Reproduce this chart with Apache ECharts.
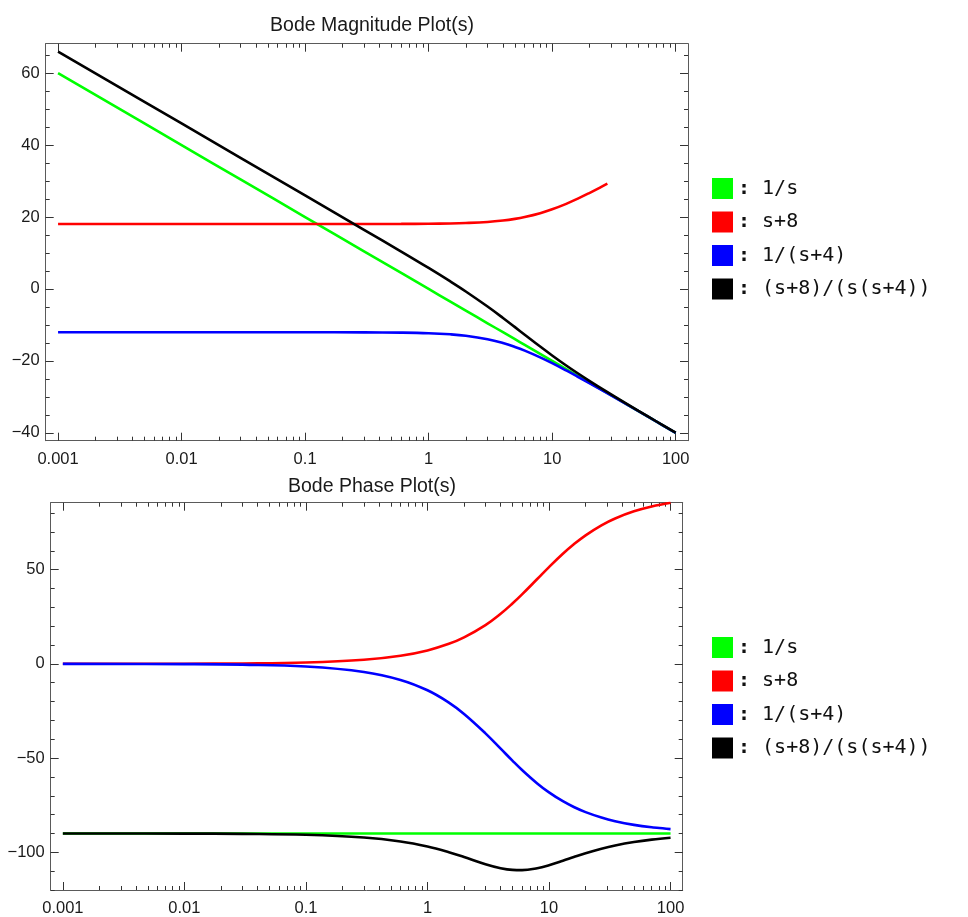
<!DOCTYPE html>
<html>
<head>
<meta charset="utf-8">
<script src="https://cdn.jsdelivr.net/npm/echarts@6/dist/echarts.min.js"></script>
<style>
  html, body { margin: 0; padding: 0; background: #fff; }
  #main { width: 968px; height: 917px; }
</style>
</head>
<body>
<div id="main"></div>
<script>
// frequencies (rad/s) sampled along the curves
var freq = [0.001, 0.01, 0.03, 0.1, 0.3, 0.6, 1, 1.5, 2, 3, 4, 5, 6, 8, 10, 13, 16, 20, 27, 35, 50, 70, 100];
// the s+8 magnitude curve stops near w = 28
var freqRed = [0.001, 0.01, 0.1, 0.3, 0.6, 1, 1.5, 2, 3, 4, 5, 6, 8, 10, 13, 16, 20, 24, 28];

// magnitude (dB)
var magGreen = [60, 40, 30.46, 20, 10.46, 4.44, 0, -3.52, -6.02, -9.54, -12.04, -13.98, -15.56, -18.06, -20, -22.28, -24.08, -26.02, -28.63, -30.88, -33.98, -36.9, -40];
var magRed = [18.06, 18.06, 18.06, 18.07, 18.09, 18.13, 18.21, 18.33, 18.63, 19.03, 19.49, 20.0, 21.07, 22.15, 23.67, 25.05, 26.67, 28.06, 29.28];
var magBlue = [-12.04, -12.04, -12.04, -12.04, -12.07, -12.14, -12.3, -12.61, -13.01, -13.98, -15.05, -16.13, -17.16, -19.03, -20.64, -22.67, -24.35, -26.19, -28.72, -30.94, -34.01, -36.92, -40.01];
var magBlack = [66.02, 46.02, 36.48, 26.02, 16.46, 10.39, 5.83, 2.08, -0.7, -4.89, -8.06, -10.62, -12.72, -16.02, -18.49, -21.28, -23.38, -25.54, -28.36, -30.72, -33.9, -36.86, -39.98];

// phase (deg)
var phaseGreen = [-90, -90, -90, -90, -90, -90, -90, -90, -90, -90, -90, -90, -90, -90, -90, -90, -90, -90, -90, -90, -90, -90, -90];
var phaseRed = [0.01, 0.07, 0.21, 0.72, 2.15, 4.29, 7.13, 10.62, 14.04, 20.56, 26.57, 32.01, 36.87, 45, 51.34, 58.39, 63.43, 68.2, 73.5, 77.13, 80.91, 83.48, 85.43];
var phaseBlue = [-0.01, -0.14, -0.43, -1.43, -4.29, -8.53, -14.04, -20.56, -26.57, -36.87, -45, -51.34, -56.31, -63.43, -68.2, -72.9, -75.96, -78.69, -81.57, -83.48, -85.43, -86.73, -87.71];
var phaseBlack = [-90.01, -90.07, -90.22, -90.71, -92.14, -94.24, -96.91, -99.94, -102.53, -106.31, -108.43, -109.33, -109.44, -108.43, -106.86, -104.51, -102.53, -100.49, -98.07, -96.35, -94.52, -93.25, -92.28];

var names = ['1/s', 's+8', '1/(s+4)', '(s+8)/(s(s+4))'];
var colors = ['#00ff00', '#ff0000', '#0000ff', '#000000'];

// tick values
var xMajor = [0.001, 0.01, 0.1, 1, 10, 100];
var xMinor = [];
xMajor.slice(0, 5).forEach(function (d) {
    for (var k = 2; k <= 9; k++) xMinor.push(+(d * k).toPrecision(3));
});
var magMajor = [-40, -20, 0, 20, 40, 60];
var magMinor = [-40, -35, -30, -25, -20, -15, -10, -5, 0, 5, 10, 15, 20, 25, 30, 35, 40, 45, 50, 55, 60, 65];
var phaseMajor = [-100, -50, 0, 50];
var phaseMinor = [-120, -110, -100, -90, -80, -70, -60, -50, -40, -30, -20, -10, 0, 10, 20, 30, 40, 50, 60, 70, 80];

var xMin = Math.pow(10, -3.1), xMax = Math.pow(10, 2.1);
var frameColor = '#5a5a5a';
var labelFont = { color: '#1a1a1a', fontFamily: 'Liberation Sans', fontSize: 16.5 };

function pairs(xs, ys) {
    return xs.map(function (x, i) { return [x, ys[i]]; });
}

function fmtY(v) {
    return v < 0 ? '\u2212' + Math.abs(v) : String(v);
}

// four x axes per grid: bottom major/minor, top major/minor
function xAxes(g) {
    function ax(pos, vals, len, withLabel, withLine) {
        return {
            type: 'log', logBase: 10, gridIndex: g, position: pos,
            min: xMin, max: xMax,
            axisLine: { show: withLine, onZero: false, lineStyle: { color: frameColor, width: 1 } },
            axisTick: { show: true, inside: true, length: len, customValues: vals, lineStyle: { color: '#333', width: 1 } },
            axisLabel: withLabel ? Object.assign({
                show: true, margin: 10, customValues: vals,
                formatter: function (v) { return String(+v.toPrecision(3)); }
            }, labelFont) : { show: false },
            splitLine: { show: false },
            minorTick: { show: false }
        };
    }
    return [
        ax('bottom', xMajor, 8, true, true),
        ax('bottom', xMinor, 4, false, false),
        ax('top', xMajor, 8, false, true),
        ax('top', xMinor, 4, false, false)
    ];
}

function yAxes(g, min, max, major, minor) {
    function ax(pos, vals, len, withLabel, withLine) {
        return {
            type: 'value', gridIndex: g, position: pos,
            min: min, max: max,
            axisLine: { show: withLine, onZero: false, lineStyle: { color: frameColor, width: 1 } },
            axisTick: { show: true, inside: true, length: len, customValues: vals, lineStyle: { color: '#333', width: 1 } },
            axisLabel: withLabel ? Object.assign({
                show: true, margin: 6, customValues: vals, formatter: fmtY
            }, labelFont) : { show: false },
            splitLine: { show: false }
        };
    }
    return [
        ax('left', major, 8, true, true),
        ax('left', minor, 4, false, false),
        ax('right', major, 8, false, true),
        ax('right', minor, 4, false, false)
    ];
}

function lineSeries(name, color, g, xs, ys) {
    return {
        name: name, type: 'line',
        xAxisIndex: g * 4, yAxisIndex: g * 4,
        data: pairs(xs, ys),
        smooth: 0.4,
        showSymbol: false, symbol: 'none',
        lineStyle: { color: color, width: 2.6 },
        itemStyle: { color: color },
        emphasis: { disabled: true },
        z: 3
    };
}

function legendFor(g, top) {
    return {
        orient: 'vertical', left: 707, top: top,
        icon: 'rect', itemWidth: 21, itemHeight: 21, itemGap: 12.5,
        data: names,
        selectedMode: false,
        formatter: function (name) { return '{c|:} {t|' + name + '}'; },
        textStyle: {
            fontFamily: 'DejaVu Sans Mono', fontSize: 20, color: '#111', lineHeight: 21,
            rich: {
                c: { fontFamily: 'DejaVu Sans Mono', fontSize: 20, fontWeight: 'bold', color: '#111' },
                t: { fontFamily: 'DejaVu Sans Mono', fontSize: 20, color: '#111' }
            }
        }
    };
}

var chart = echarts.init(document.getElementById('main'), null, { renderer: 'canvas' });

var option = {
    animation: false,
    backgroundColor: '#fff',
    title: [
        { text: 'Bode Magnitude Plot(s)', left: 367, top: 11, textAlign: 'center',
          textStyle: { fontFamily: 'Liberation Sans', fontSize: 19.5, fontWeight: 'normal', color: '#1a1a1a' } },
        { text: 'Bode Phase Plot(s)', left: 367, top: 472, textAlign: 'center',
          textStyle: { fontFamily: 'Liberation Sans', fontSize: 19.5, fontWeight: 'normal', color: '#1a1a1a' } }
    ],
    grid: [
        { left: 45.7, top: 43.7, width: 642.3, height: 397 },
        { left: 50.7, top: 502.7, width: 632, height: 390 }
    ],
    legend: [legendFor(0, 173), legendFor(1, 632)],
    xAxis: xAxes(0).concat(xAxes(1)),
    yAxis: yAxes(0, -42.2, 68.2, magMajor, magMinor).concat(yAxes(1, -120, 85.5, phaseMajor, phaseMinor)),
    series: [
        lineSeries(names[0], colors[0], 0, freq, magGreen),
        lineSeries(names[1], colors[1], 0, freqRed, magRed),
        lineSeries(names[2], colors[2], 0, freq, magBlue),
        lineSeries(names[3], colors[3], 0, freq, magBlack),
        lineSeries(names[0], colors[0], 1, freq, phaseGreen),
        lineSeries(names[1], colors[1], 1, freq, phaseRed),
        lineSeries(names[2], colors[2], 1, freq, phaseBlue),
        lineSeries(names[3], colors[3], 1, freq, phaseBlack)
    ]
};

chart.setOption(option);
</script>
</body>
</html>
